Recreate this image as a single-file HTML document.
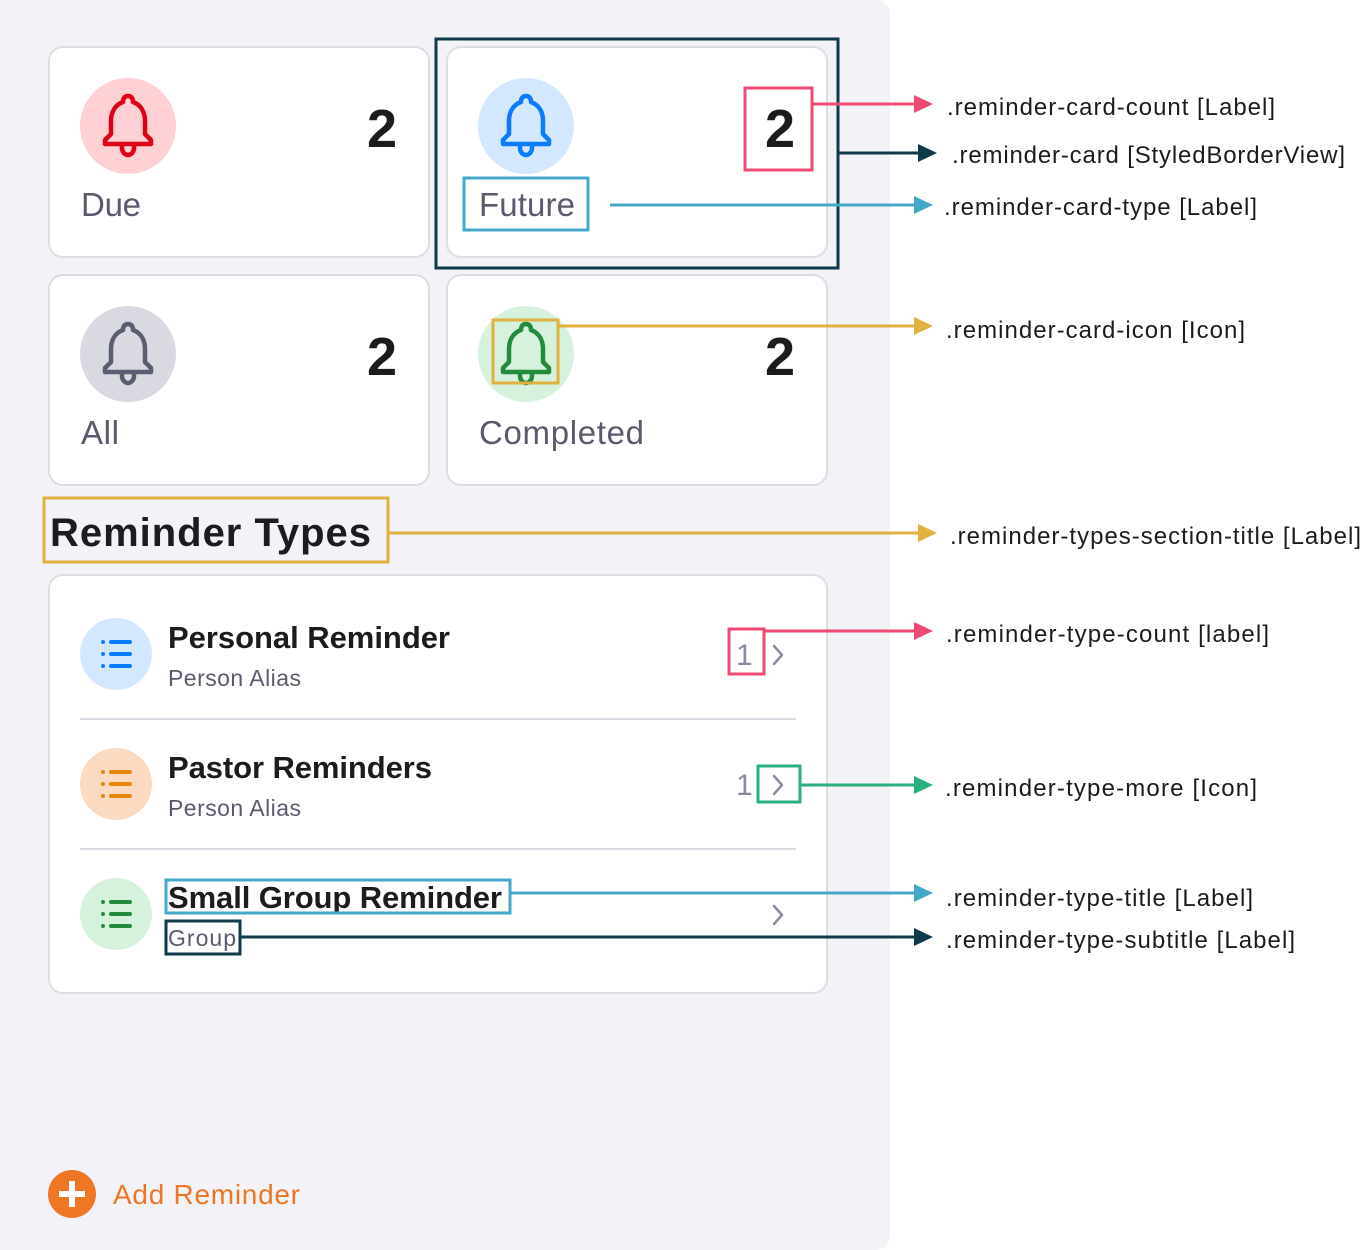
<!DOCTYPE html>
<html><head><meta charset="utf-8"><style>
html,body{margin:0;padding:0;background:#fff;}
svg{display:block;font-family:"Liberation Sans",sans-serif;}
</style></head><body>
<svg width="1362" height="1250" viewBox="0 0 1362 1250" xmlns="http://www.w3.org/2000/svg">
<defs>
<g id="bell"><path d="M0,-30 C-4,-30 -5,-27 -5,-24 C-13,-21 -17,-14 -17,-5 L-17,8 L-23,14 L-23,18 L23,18 L23,14 L17,8 L17,-5 C17,-14 13,-21 5,-24 C5,-27 4,-30 0,-30 Z" fill="none" stroke-width="4.5" stroke-linejoin="round"/><path d="M-6,18 L-6,22 C-6,26 -3,29 0,29 C3,29 6,26 6,22 L6,18" fill="none" stroke-width="4.5"/></g>
<g id="list"><circle cx="-15" cy="-12" r="2"/><circle cx="-15" cy="0" r="2"/><circle cx="-15" cy="12" r="2"/><rect x="-9" y="-14" width="23" height="4" rx="2"/><rect x="-9" y="-2" width="23" height="4" rx="2"/><rect x="-9" y="10" width="23" height="4" rx="2"/></g>
</defs>
<rect x="0" y="0" width="1362" height="1250" fill="#fff"/>
<path d="M0,0 H876 A14,14 0 0 1 890,14 V1236 A14,14 0 0 1 876,1250 H0 Z" fill="#f2f2f7"/>
<g fill="#fff" stroke="#dcdce4" stroke-width="2">
<rect x="49" y="47" width="380" height="210" rx="14"/>
<rect x="447" y="47" width="380" height="210" rx="14"/>
<rect x="49" y="275" width="380" height="210" rx="14"/>
<rect x="447" y="275" width="380" height="210" rx="14"/>
<rect x="49" y="575" width="778" height="418" rx="14"/>
</g>
<circle cx="128" cy="126" r="48" fill="#ffd0d4"/><use href="#bell" x="128" y="126" stroke="#de0015"/>
<circle cx="526" cy="126" r="48" fill="#d3e8ff"/><use href="#bell" x="526" y="126" stroke="#0a7aff"/>
<circle cx="128" cy="354" r="48" fill="#d9d9e2"/><use href="#bell" x="128" y="354" stroke="#5d5d70"/>
<circle cx="526" cy="354" r="48" fill="#d6f2dc"/><use href="#bell" x="526" y="354" stroke="#248a3d"/>
<g font-weight="bold" font-size="54" fill="#1c1c1e" text-anchor="end">
<text x="397" y="147">2</text><text x="795" y="147">2</text><text x="397" y="375">2</text><text x="795" y="375">2</text>
</g>
<g font-size="33" fill="#5a5a6e">
<text x="81" y="216" textLength="60">Due</text><text x="479" y="216" textLength="96">Future</text><text x="81" y="444" textLength="38">All</text><text x="479" y="444" textLength="165">Completed</text>
</g>
<text x="50" y="546" font-size="40" font-weight="bold" fill="#1c1c1e" textLength="321">Reminder Types</text>
<circle cx="116" cy="654" r="36" fill="#d3e8ff"/><use href="#list" x="118" y="654" fill="#0a7aff"/>
<circle cx="116" cy="784" r="36" fill="#fadbc2"/><use href="#list" x="118" y="784" fill="#e8870e"/>
<circle cx="116" cy="914" r="36" fill="#d6f2dc"/><use href="#list" x="118" y="914" fill="#248a3d"/>
<g font-size="31" font-weight="bold" fill="#1c1c1e">
<text x="168" y="648" textLength="282">Personal Reminder</text>
<text x="168" y="778" textLength="264">Pastor Reminders</text>
<text x="168" y="908" textLength="334">Small Group Reminder</text>
</g>
<g font-size="23" fill="#5a5a6e">
<text x="168" y="686" textLength="133">Person Alias</text>
<text x="168" y="816" textLength="133">Person Alias</text>
<text x="168" y="946" textLength="68">Group</text>
</g>
<g stroke="#dcdce4" stroke-width="2"><line x1="80" y1="719" x2="796" y2="719"/><line x1="80" y1="849" x2="796" y2="849"/></g>
<g font-size="30" fill="#8a8aa0"><text x="736" y="665">1</text><text x="736" y="795">1</text></g>
<g fill="none" stroke="#8a8aa0" stroke-width="2.5" stroke-linecap="round" stroke-linejoin="round">
<path d="M774,646 L782,655 L774,664"/><path d="M774,776 L782,785 L774,794"/><path d="M774,906 L782,915 L774,924"/>
</g>
<circle cx="72" cy="1194" r="24" fill="#ee7625"/>
<path d="M72,1181 V1207 M59,1194 H85" stroke="#fff" stroke-width="6"/>
<text x="113" y="1204" font-size="28" fill="#ee7625" textLength="187">Add Reminder</text>
<g fill="none" stroke-width="3">
<rect x="436" y="39" width="402" height="229" stroke="#0e3a4a"/>
<rect x="745" y="88" width="67" height="82" stroke="#ef4a74"/>
<rect x="464" y="178" width="124" height="52" stroke="#44a8c8"/>
<rect x="493" y="320" width="65" height="63" stroke="#e0b040"/>
<rect x="44" y="498" width="344" height="64" stroke="#e0b040"/>
<rect x="729" y="629" width="35" height="45" stroke="#ef4a74"/>
<rect x="758" y="766" width="42" height="36" stroke="#2ab07e"/>
<rect x="166" y="880" width="344" height="33" stroke="#44a8c8"/>
<rect x="166" y="921" width="74" height="33" stroke="#0e3a4a"/>
</g>
<g stroke-width="3">
<line x1="813" y1="104" x2="916" y2="104" stroke="#ef4a74"/>
<line x1="838" y1="153" x2="920" y2="153" stroke="#0e3a4a"/>
<line x1="610" y1="205" x2="916" y2="205" stroke="#44a8c8"/>
<line x1="558" y1="326" x2="916" y2="326" stroke="#e0b040"/>
<line x1="389" y1="533" x2="920" y2="533" stroke="#e0b040"/>
<line x1="765" y1="631" x2="916" y2="631" stroke="#ef4a74"/>
<line x1="801" y1="785" x2="916" y2="785" stroke="#2ab07e"/>
<line x1="511" y1="893" x2="916" y2="893" stroke="#44a8c8"/>
<line x1="241" y1="937" x2="916" y2="937" stroke="#0e3a4a"/>
</g>
<polygon points="914,95 933,104 914,113" fill="#ef4a74"/>
<polygon points="918,144 937,153 918,162" fill="#0e3a4a"/>
<polygon points="914,196 933,205 914,214" fill="#44a8c8"/>
<polygon points="914,317 933,326 914,335" fill="#e0b040"/>
<polygon points="918,524 937,533 918,542" fill="#e0b040"/>
<polygon points="914,622 933,631 914,640" fill="#ef4a74"/>
<polygon points="914,776 933,785 914,794" fill="#2ab07e"/>
<polygon points="914,884 933,893 914,902" fill="#44a8c8"/>
<polygon points="914,928 933,937 914,946" fill="#0e3a4a"/>
<g font-size="24" fill="#1c1c1e">
<text x="947" y="115" textLength="328">.reminder-card-count [Label]</text>
<text x="952" y="163" textLength="393">.reminder-card [StyledBorderView]</text>
<text x="944" y="215" textLength="313">.reminder-card-type [Label]</text>
<text x="946" y="338" textLength="299">.reminder-card-icon [Icon]</text>
<text x="950" y="544" textLength="411">.reminder-types-section-title [Label]</text>
<text x="946" y="642" textLength="323">.reminder-type-count [label]</text>
<text x="945" y="796" textLength="312">.reminder-type-more [Icon]</text>
<text x="946" y="906" textLength="307">.reminder-type-title [Label]</text>
<text x="946" y="948" textLength="349">.reminder-type-subtitle [Label]</text>
</g>
</svg>
</body></html>
